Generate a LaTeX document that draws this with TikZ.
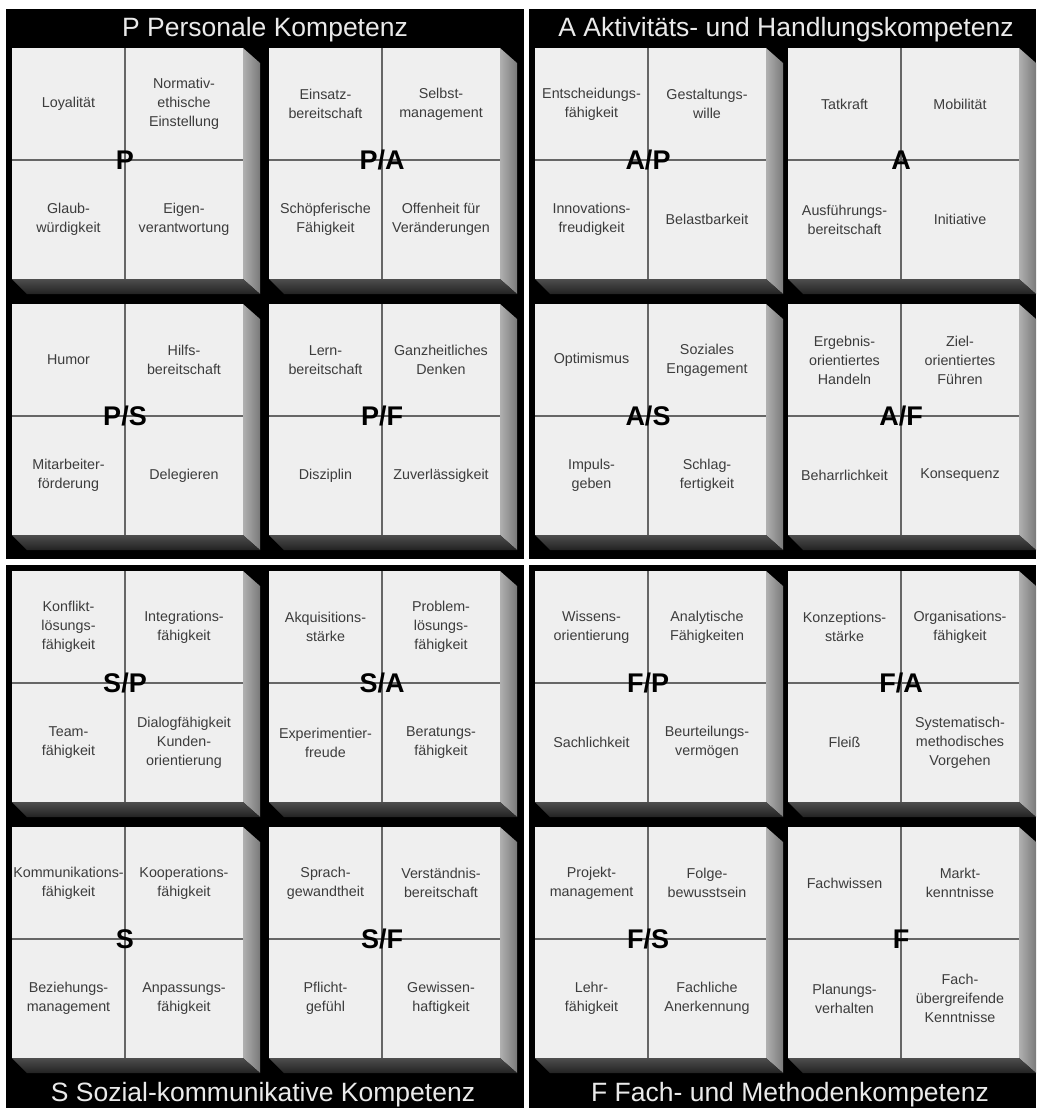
\documentclass[tikz,border=0pt]{standalone}
\usepackage{fontspec}
\setmainfont{Liberation Sans}
\definecolor{facecol}{HTML}{EFEFEF}
\definecolor{sidelight}{HTML}{B0B0B0}
\definecolor{sidedark}{HTML}{7A7A7A}
\definecolor{botlight}{HTML}{4E4E4E}
\definecolor{botdark}{HTML}{222222}
\definecolor{txtcol}{HTML}{3C3C3C}
\definecolor{divcol}{HTML}{666666}
\definecolor{headcol}{HTML}{EAEAEA}
\newcommand\kblock[8]{%
  \begin{scope}[shift={(#1,#2)}]
    \shade[left color=sidelight, right color=sidedark]
      (231,0) -- (248,15) -- (248,246) -- (231,231) -- cycle;
    \shade[top color=botlight, bottom color=botdark]
      (0,231) -- (231,231) -- (248,246) -- (15,246) -- cycle;
    \fill[facecol] (0,0) rectangle (231,231);
    \draw[divcol, line width=1.6pt] (113,0) -- (113,231) (0,112) -- (231,112);
    \node[cell] (#3-tl) at (56.5,56) {#5};
    \node[cell] (#3-tr) at (172,56) {#6};
    \node[cell] (#3-bl) at (56.5,171.5) {#7};
    \node[cell] (#3-br) at (172,171.5) {#8};
    \node[blab] (#3-lab) at (113,112) {#4};
  \end{scope}}
\begin{document}
\begin{tikzpicture}[x=1pt,y=-1pt,
  cell/.style={font=\fontsize{14.3}{19}\selectfont, text=txtcol, align=center, inner sep=0pt},
  blab/.style={font=\fontsize{27}{27}\selectfont\bfseries, text=black, inner sep=0pt},
  head/.style={font=\fontsize{26.5}{26.5}\selectfont, text=headcol, inner sep=0pt, anchor=base},
  panel/.style={fill=black}]
\useasboundingbox (0,0) rectangle (1038,1108);
\fill[white] (0,0) rectangle (1038,1108);
% panels
\fill[panel] (6,9) rectangle (524,559);
\fill[panel] (529,9) rectangle (1036,559);
\fill[panel] (6,565) rectangle (524,1108);
\fill[panel] (529,565) rectangle (1036,1108);
% headers
\node[head] (hP) at (265,37) {P Personale Kompetenz};
\node[head] (hA) at (786,37) {A Aktivitäts- und Handlungskompetenz};
\node[head] (hS) at (263,1101) {S Sozial-kommunikative Kompetenz};
\node[head] (hF) at (790,1101) {F Fach- und Methodenkompetenz};
% row 1
\kblock{12}{48}{bP}{P}{Loyalität}{Normativ-\\ethische\\Einstellung}{Glaub-\\würdigkeit}{Eigen-\\verantwortung}
\kblock{269}{48}{bPA}{P/A}{Einsatz-\\bereitschaft}{Selbst-\\management}{Schöpferische\\Fähigkeit}{Offenheit für\\Veränderungen}
\kblock{535}{48}{bAP}{A/P}{Entscheidungs-\\fähigkeit}{Gestaltungs-\\wille}{Innovations-\\freudigkeit}{Belastbarkeit}
\kblock{788}{48}{bA}{A}{Tatkraft}{Mobilität}{Ausführungs-\\bereitschaft}{Initiative}
% row 2
\kblock{12}{304}{bPS}{P/S}{Humor}{Hilfs-\\bereitschaft}{Mitarbeiter-\\förderung}{Delegieren}
\kblock{269}{304}{bPF}{P/F}{Lern-\\bereitschaft}{Ganzheitliches\\Denken}{Disziplin}{Zuverlässigkeit}
\kblock{535}{304}{bAS}{A/S}{Optimismus}{Soziales\\Engagement}{Impuls-\\geben}{Schlag-\\fertigkeit}
\kblock{788}{304}{bAF}{A/F}{Ergebnis-\\orientiertes\\Handeln}{Ziel-\\orientiertes\\Führen}{Beharrlichkeit}{Konsequenz}
% row 3
\kblock{12}{571}{bSP}{S/P}{Konflikt-\\lösungs-\\fähigkeit}{Integrations-\\fähigkeit}{Team-\\fähigkeit}{Dialogfähigkeit\\Kunden-\\orientierung}
\kblock{269}{571}{bSA}{S/A}{Akquisitions-\\stärke}{Problem-\\lösungs-\\fähigkeit}{Experimentier-\\freude}{Beratungs-\\fähigkeit}
\kblock{535}{571}{bFP}{F/P}{Wissens-\\orientierung}{Analytische\\Fähigkeiten}{Sachlichkeit}{Beurteilungs-\\vermögen}
\kblock{788}{571}{bFA}{F/A}{Konzeptions-\\stärke}{Organisations-\\fähigkeit}{Fleiß}{Systematisch-\\methodisches\\Vorgehen}
% row 4
\kblock{12}{827}{bS}{S}{Kommunikations-\\fähigkeit}{Kooperations-\\fähigkeit}{Beziehungs-\\management}{Anpassungs-\\fähigkeit}
\kblock{269}{827}{bSF}{S/F}{Sprach-\\gewandtheit}{Verständnis-\\bereitschaft}{Pflicht-\\gefühl}{Gewissen-\\haftigkeit}
\kblock{535}{827}{bFS}{F/S}{Projekt-\\management}{Folge-\\bewusstsein}{Lehr-\\fähigkeit}{Fachliche\\Anerkennung}
\kblock{788}{827}{bF}{F}{Fachwissen}{Markt-\\kenntnisse}{Planungs-\\verhalten}{Fach-\\übergreifende\\Kenntnisse}
\end{tikzpicture}
\end{document}
